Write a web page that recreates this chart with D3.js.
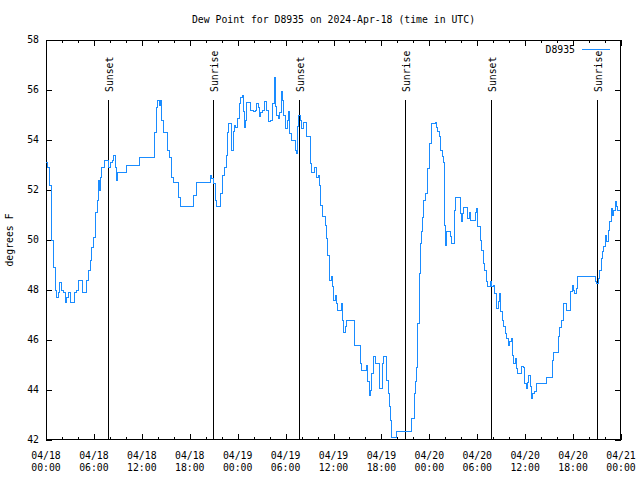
<!DOCTYPE html>
<html>
<head>
<meta charset="utf-8">
<script src="https://cdn.jsdelivr.net/npm/d3@7"></script>
<style>
body { margin: 0; background: #fff; }
text { font-family: "DejaVu Sans Mono", monospace; font-size: 9.8px; fill: #000; }
.tick line { stroke: #000; }
</style>
</head>
<body>
<script>
// hours since 2024-04-18 00:00 UTC, dew point in F (step after)
var hours = [0.0, 0.25, 0.38, 0.5, 0.63, 0.75, 0.91, 1.13, 1.25, 1.34, 1.54, 1.75, 1.97, 2.17, 2.38, 2.59, 2.79, 3.01,
  3.54, 3.84, 4.04, 4.55, 5.10, 5.30, 5.51, 5.72, 5.92, 6.14, 6.26, 6.42, 6.55, 6.67, 6.85, 7.01, 7.30, 7.80, 8.10,
  8.35, 8.51, 8.65, 8.80, 8.98, 10.02, 11.77, 13.56, 13.86, 14.02, 14.15, 14.36, 14.49, 14.69, 15.19, 15.44, 15.74,
  15.94, 16.53, 16.82, 18.53, 18.87, 20.54, 20.75, 20.95, 21.25, 21.38, 21.88, 22.13, 22.33, 22.54, 22.70, 22.88,
  23.27, 23.45, 23.63, 23.79, 23.95, 24.21, 24.38, 24.58, 24.71, 24.83, 25.01, 25.13, 25.55, 25.96, 26.2, 26.38,
  26.6, 26.71, 26.92, 27.1, 27.34, 27.55, 27.84, 28.14, 28.39, 28.55, 28.71, 28.89, 29.09, 29.30, 29.43, 29.59,
  29.80, 30.02, 30.22, 30.39, 30.55, 30.77, 31.18, 31.39, 31.52, 31.64, 31.81, 32.02, 32.22, 32.56, 33.06, 33.27,
  33.56, 33.81, 34.06, 34.22, 34.4, 34.56, 34.97, 35.15, 35.31, 35.44, 35.56, 35.69, 35.90, 36.03, 36.19, 36.40,
  36.53, 36.94, 37.07, 37.23, 37.44, 37.60, 38.69, 39.44, 39.53, 40.07, 40.23, 40.45, 40.63, 40.82, 40.98, 41.20,
  41.70, 41.82, 42.16, 42.32, 42.66, 42.86, 42.99, 43.16, 43.29, 43.91, 45.79, 46.08, 46.24, 46.42, 46.58, 46.74,
  46.90, 46.99, 47.12, 47.25, 47.58, 47.71, 47.83, 47.96, 48.08, 48.21, 48.30, 48.75, 48.87, 49.00, 49.25, 49.42,
  49.59, 49.75, 49.87, 49.96, 50.05, 50.18, 50.59, 50.80, 51.09, 51.21, 51.30, 51.84, 51.97, 52.13, 52.30, 52.80,
  52.97, 53.18, 53.72, 53.93, 54.06, 54.35, 54.56, 54.72, 54.88, 55.10, 55.31, 55.60, 55.81, 56.01, 56.22, 56.44,
  56.64, 56.76, 56.94, 57.10, 57.31, 57.51, 57.69, 57.94, 58.10, 58.26, 58.39, 58.56, 58.73, 58.89, 59.02, 59.60,
  59.77, 59.94, 60.11, 60.27, 60.44, 60.61, 60.77, 60.94, 61.23, 61.44, 62.70, 63.45, 63.61, 64.20, 64.36, 64.61,
  64.83, 65.20, 65.70, 65.87, 66.03, 66.20, 66.37, 66.58, 68.75, 68.96, 69.16, 69.37, 69.50, 69.66, 69.87, 70.04,
  70.21, 70.41, 70.62, 70.75, 70.91, 71.08, 71.29, 71.46, 71.58, 71.92];
var dewF = [53.1, 52.9, 52.7, 52.2, 51.1, 50.0, 48.9, 48.5, 48.0, 47.7, 47.9, 48.3, 48.0, 47.9, 47.5, 47.7, 47.9, 47.5,
  47.9, 48.0, 48.4, 47.9, 48.4, 48.8, 49.2, 49.7, 50.1, 50.5, 51.1, 51.6, 52.4, 52.0, 52.5, 52.9, 53.2, 52.9, 53.1,
  53.2, 53.4, 52.9, 52.4, 52.7, 53.0, 53.3, 54.3, 55.3, 55.6, 55.4, 55.6, 54.8, 54.3, 53.6, 53.3, 52.5,
  52.3, 51.7, 51.35, 51.8, 52.3, 52.6, 52.45, 52.25, 51.6, 51.35, 51.85, 52.6, 52.9, 53.4, 54.3, 54.65,
  53.6, 54.35, 54.6, 54.5, 54.85, 55.45, 55.7, 55.8, 55.15, 54.5, 54.8, 55.5, 55.2, 55.15, 55.2, 55.45,
  55.3, 54.95, 55.1, 55.2, 55.55, 55.2, 54.75, 54.8, 55.45, 56.5, 55.35, 55.0, 54.85, 55.1, 55.95, 55.6,
  55.0, 54.45, 54.8, 55.15, 54.25, 54.0, 53.6, 53.45, 54.55, 55.0, 54.8, 54.45, 54.7, 54.15, 53.05, 52.7,
  52.9, 52.5, 52.6, 52.2, 51.4, 50.95, 50.6, 50.05, 49.4, 49.0, 48.4, 48.55, 48.15, 47.6, 47.8, 47.45,
  47.2, 47.45, 46.8, 46.3, 46.55, 46.8, 45.8, 45.05, 44.8, 45.0, 44.35, 43.8, 44.0, 44.65, 45.35, 45.05,
  44.35, 44.05, 45.05, 45.35, 44.4, 43.85, 43.35, 42.8, 42.1, 42.35, 42.85, 43.85, 44.35, 44.9, 46.65, 48.65,
  49.85, 50.35, 50.9, 51.6, 51.85, 52.3, 52.85, 53.35, 53.85, 54.35, 54.65, 54.7, 54.5, 54.35, 54.15, 53.6,
  53.35, 53.1, 52.25, 50.6, 49.8, 50.35, 50.15, 49.85, 50.35, 51.2, 51.7, 51.05, 50.75, 51.05, 51.3, 50.85,
  51.1, 50.8, 51.1, 51.25, 50.55, 50.0, 49.6, 49.05, 48.8, 48.35, 48.15, 48.35, 48.15, 48.2, 47.85, 47.25,
  47.55, 47.85, 47.15, 46.8, 46.55, 46.25, 46.05, 45.8, 45.95, 46.05, 45.4, 45.05, 45.25, 44.85, 44.65, 44.95,
  44.9, 44.25, 44.05, 44.3, 44.6, 44.15, 43.65, 43.85, 43.95, 44.25, 44.5, 45.2, 45.5, 46.15, 46.5, 46.8,
  47.45, 47.2, 47.95, 48.2, 48.0, 47.85, 48.05, 48.55, 48.35, 48.25, 48.45, 48.8, 49.25, 49.55, 49.75, 50.2,
  49.95, 50.4, 50.75, 51.25, 51.0, 51.2, 51.55, 51.35, 51.2, 51.2];

var sunHours = [7.78, 20.95, 31.70, 44.97, 55.72, 68.98];
var sunLabels = ["Sunset", "Sunrise", "Sunset", "Sunrise", "Sunset", "Sunrise"];
var sunTop = 55.6;

var yTicks = [42, 44, 46, 48, 50, 52, 54, 56, 58];
var titleText = "Dew Point for D8935 on 2024-Apr-18 (time in UTC)";
var seriesName = "D8935";

var width = 640, height = 480,
    plotL = 46, plotR = 621, plotT = 40, plotB = 440;

var t0 = Date.UTC(2024, 3, 18);
function toDate(h) { return new Date(t0 + h * 3600e3); }

var x = d3.scaleUtc().domain([toDate(0), toDate(72)]).range([plotL, plotR]);
var y = d3.scaleLinear().domain([42, 58]).range([plotB, plotT]);

var svg = d3.select("body").append("svg")
    .attr("width", width)
    .attr("height", height);

svg.append("rect").attr("width", width).attr("height", height).attr("fill", "#fff");

// ticks (inward, mirrored)
var minor = d3.utcHour.every(2).range(toDate(0), toDate(72.01));
var major = d3.utcHour.every(6).range(toDate(0), toDate(72.01));

function tickAxis(axis, pos, vals, size) {
  svg.append("g")
    .attr("transform", pos)
    .call(axis.tickValues(vals).tickSize(size).tickSizeOuter(0).tickFormat(""))
    .call(g => g.select(".domain").remove())
    .selectAll("line").attr("shape-rendering", "crispEdges");
}
tickAxis(d3.axisBottom(x), "translate(0," + plotB + ")", minor, -3);
tickAxis(d3.axisBottom(x), "translate(0," + plotB + ")", major, -6);
tickAxis(d3.axisTop(x), "translate(0," + plotT + ")", minor, -3);
tickAxis(d3.axisTop(x), "translate(0," + plotT + ")", major, -6);
tickAxis(d3.axisLeft(y), "translate(" + plotL + ",0)", yTicks, -6);
tickAxis(d3.axisRight(y), "translate(" + plotR + ",0)", yTicks, -6);

// frame
svg.append("rect")
    .attr("x", plotL + 0.5).attr("y", plotT + 0.5)
    .attr("width", plotR - plotL - 1).attr("height", plotB - plotT - 1)
    .attr("fill", "none").attr("stroke", "#000")
    .attr("shape-rendering", "crispEdges");

// x labels
var fmtDay = d3.utcFormat("%m/%d"), fmtTime = d3.utcFormat("%H:%M");
var xl = svg.selectAll(".xl").data(major).enter().append("text")
    .attr("class", "xl")
    .attr("text-anchor", "middle");
xl.append("tspan").attr("x", d => x(d)).attr("y", 459).text(fmtDay);
xl.append("tspan").attr("x", d => x(d)).attr("y", 471).text(fmtTime);

// y labels
svg.selectAll(".yl").data(yTicks).enter().append("text")
    .attr("class", "yl")
    .attr("x", 39).attr("y", d => y(d))
    .attr("dy", "0.35em")
    .attr("text-anchor", "end")
    .text(d => d);

// title & axis title
svg.append("text").attr("x", (plotL + plotR) / 2).attr("y", 23)
    .attr("text-anchor", "middle").text(titleText);
svg.append("text")
    .attr("transform", "translate(13," + ((plotT + plotB) / 2) + ") rotate(-90)")
    .attr("text-anchor", "middle").text("degrees F");

// sunrise / sunset markers
sunHours.forEach(function (h, i) {
  var sx = Math.round(x(toDate(h))) + 0.5;
  svg.append("line")
      .attr("x1", sx).attr("x2", sx)
      .attr("y1", y(sunTop)).attr("y2", plotB)
      .attr("stroke", "#000");
  svg.append("text")
      .attr("transform", "translate(" + (sx + 4) + ",92) rotate(-90)")
      .attr("text-anchor", "start")
      .text(sunLabels[i]);
});

// data line
var pts = hours.map((h, i) => [toDate(h), dewF[i]]);
var line = d3.line()
    .x(d => x(d[0]))
    .y(d => y(d[1]))
    .curve(d3.curveStepAfter);

svg.append("path")
    .datum(pts)
    .attr("d", line)
    .attr("fill", "none")
    .attr("stroke", "#1a8cff")
    .attr("stroke-width", 1)
    .attr("shape-rendering", "crispEdges");

// legend
svg.append("text").attr("x", 575).attr("y", 53)
    .attr("text-anchor", "end").text(seriesName);
svg.append("line")
    .attr("x1", 582).attr("x2", 610)
    .attr("y1", 49.5).attr("y2", 49.5)
    .attr("stroke", "#1a8cff");
</script>
</body>
</html>
